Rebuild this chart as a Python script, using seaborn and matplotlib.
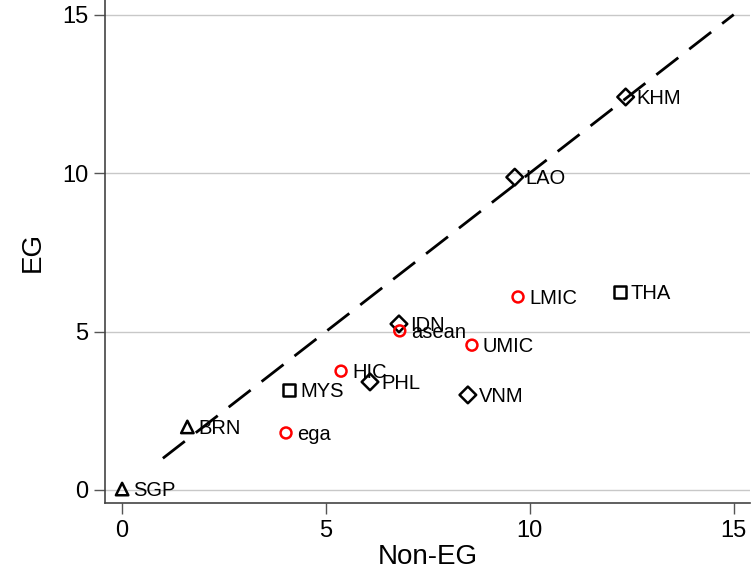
import matplotlib
matplotlib.use("Agg")
import matplotlib.pyplot as plt
import seaborn as sns
import pandas as pd

# Data
names = ["SGP", "BRN", "ega", "MYS", "HIC", "PHL", "IDN", "asean", "UMIC", "VNM", "LMIC", "THA", "LAO", "KHM"]
non_eg = [0.0, 1.6, 4.02, 4.09, 5.37, 6.08, 6.79, 6.81, 8.58, 8.48, 9.71, 12.2, 9.63, 12.35]
eg = [0.03, 1.99, 1.80, 3.15, 3.75, 3.41, 5.24, 5.02, 4.57, 3.0, 6.09, 6.25, 9.87, 12.4]
group = ["tri", "tri", "circ", "sq", "circ", "dia", "dia", "circ", "circ", "dia", "circ", "sq", "dia", "dia"]
ticks = [0, 5, 10, 15]

df = pd.DataFrame({"name": names, "x": non_eg, "y": eg, "g": group})

sns.set_theme(style="white")
plt.rcParams['font.family'] = ['Liberation Sans', 'DejaVu Sans']

fig = plt.figure(figsize=(7.51, 5.71), dpi=100)
ax = fig.add_axes([0.1398, 0.1191, 0.8589, 0.8809])

styles = {
    "tri": dict(marker="^", color="black", s=80),
    "sq": dict(marker="s", color="black", s=75),
    "dia": dict(marker="D", color="black", s=72),
    "circ": dict(marker="o", color="red", s=62),
}
for g, st in styles.items():
    sub = df[df.g == g]
    sns.scatterplot(data=sub, x="x", y="y", marker=st["marker"], s=st["s"],
                    facecolor="none", edgecolor=st["color"], linewidth=1.8, ax=ax, zorder=3)

for _, r in df.iterrows():
    ax.text(r.x + 0.27, r.y - 0.05, r["name"], fontsize=14.5, va="center", ha="left",
            color="black", zorder=4)

# 45-degree reference line
sns.lineplot(x=[1, 15], y=[1, 15], color="black", linestyle=(0, (10, 5)), linewidth=2.0, ax=ax, zorder=2)

ax.set_xlim(-0.42, 15.4)
ax.set_ylim(-0.41, 15.46)
ax.set_xticks(ticks)
ax.set_yticks(ticks)
ax.set_xticklabels([str(t) for t in ticks], fontsize=17, color="black")
ax.set_yticklabels([str(t) for t in ticks], fontsize=17, color="black", rotation=0)
ax.tick_params(axis="both", direction="out", length=8, width=1, color="#555555", pad=4,
               left=True, bottom=True)
ax.grid(axis="y", color="#c8c8c8", linewidth=1)
ax.grid(axis="x", visible=False)
ax.set_axisbelow(True)
for sp in ["top", "right"]:
    ax.spines[sp].set_visible(False)
for sp in ["left", "bottom"]:
    ax.spines[sp].set_color("#444444")
    ax.spines[sp].set_linewidth(1.2)
ax.set_xlabel("Non-EG", fontsize=20, labelpad=2, color="black")
ax.set_ylabel("EG", fontsize=20, labelpad=12, color="black")

fig.savefig("out.png", dpi=100)
